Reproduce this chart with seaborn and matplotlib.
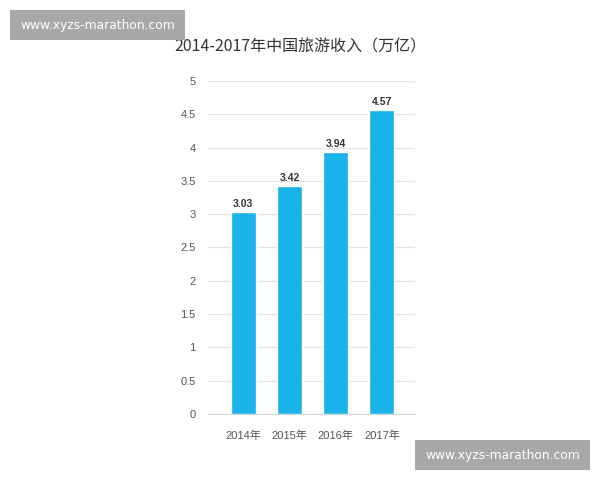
import pandas as pd
import matplotlib
matplotlib.use("Agg")
import matplotlib.pyplot as plt
import seaborn as sns
from matplotlib.patches import Rectangle

years = ["2014年", "2015年", "2016年", "2017年"]
revenue = [3.03, 3.42, 3.94, 4.57]
yticks = [0, 0.5, 1, 1.5, 2, 2.5, 3, 3.5, 4, 4.5, 5]
ytick_labels = ["0", "0.5", "1", "1.5", "2", "2.5", "3", "3.5", "4", "4.5", "5"]

sns.set_style("white")
plt.rcParams['font.family'] = ['Liberation Sans', 'Noto Sans CJK SC', 'DejaVu Sans']

df = pd.DataFrame({"year": years, "revenue": revenue})

fig = plt.figure(figsize=(6, 4.8), dpi=100)
ax = fig.add_axes([0.347, 0.1375, 0.345, 0.694])

sns.barplot(data=df, x="year", y="revenue", color="#1ab2e8", saturation=1,
            width=0.54, ax=ax, zorder=3)

ax.set_ylim(0, 5)
ax.set_xlim(-0.76, 3.72)
ax.set_yticks(yticks)
ax.set_yticklabels(ytick_labels)
ax.yaxis.grid(True, color="#e3e3e3", linewidth=0.9, zorder=0)
ax.set_axisbelow(True)
for s in ["top", "right", "left"]:
    ax.spines[s].set_visible(False)
ax.spines["bottom"].set_color("#d9d9d9")
ax.tick_params(axis="both", length=0, labelsize=8, labelcolor="#555555")
ax.tick_params(axis="y", pad=9)
ax.tick_params(axis="x", pad=12)
ax.set_xlabel("")
ax.set_ylabel("")

ax.bar_label(ax.containers[0], labels=[f"{v:.2f}" for v in revenue],
             fontsize=7.5, fontweight="bold", color="#333333", padding=2)

fig.text(0.5, 0.902, "2014-2017年中国旅游收入（万亿）", ha="center", va="center",
         fontsize=11.5, color="#333333", family=['Noto Sans CJK SC', 'DejaVu Sans'])

# watermark boxes
for x0, y0 in [(10, 10), (415, 440)]:
    fig.patches.append(Rectangle((x0 / 600, 1 - (y0 + 30) / 480), 175 / 600, 30 / 480,
                                 transform=fig.transFigure, facecolor="#a8a8a8",
                                 edgecolor="none", zorder=5))
    fig.text((x0 + 87.5) / 600, 1 - (y0 + 15) / 480, "www.xyzs-marathon.com",
             ha="center", va="center", fontsize=8.8, color="white", zorder=6,
             family=['DejaVu Sans'])

fig.savefig("out.png", dpi=100)
